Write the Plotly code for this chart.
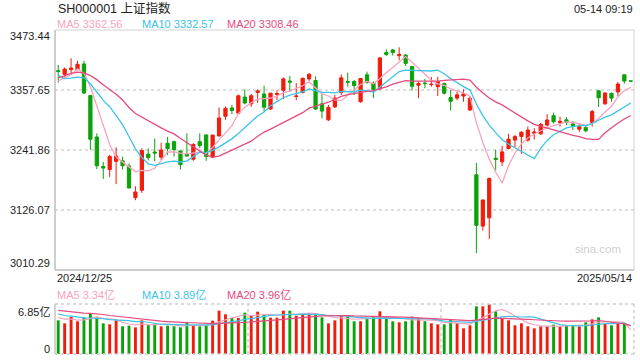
import plotly.graph_objects as go
import pandas as pd

# ---------------- data ----------------
title_text = "SH000001 上证指数"
time_text = "05-14 09:19"
date_labels = ["2024/12/25", "2025/05/14"]
price_ticks = [3010.29, 3126.07, 3241.86, 3357.65, 3473.44]
price_tick_labels = ["3010.29", "3126.07", "3241.86", "3357.65", "3473.44"]
vol_ticks = [0, 6.85]
vol_tick_labels = ["0", "6.85亿"]
ma_price_labels = ["MA5 3362.56", "MA10 3332.57", "MA20 3308.46"]
ma_vol_labels = ["MA5 3.34亿", "MA10 3.89亿", "MA20 3.96亿"]

opens = [3395, 3388, 3397, 3397, 3408, 3347, 3267, 3210, 3204, 3220,
         3221, 3211, 3150, 3164, 3234, 3238, 3228, 3255, 3258, 3240,
         3234, 3224, 3258, 3271, 3228, 3269, 3307, 3323, 3313, 3344,
         3331, 3353, 3350, 3321, 3349, 3357, 3375, 3345, 3353, 3379,
         3376, 3331, 3300, 3325, 3353, 3374, 3374, 3335, 3387, 3371,
         3360, 3430, 3435, 3424, 3425, 3403, 3367, 3371, 3368, 3364,
         3370, 3343, 3342, 3346, 3319, 3194, 3095, 3111, 3226, 3219,
         3245, 3261, 3268, 3261, 3274, 3273, 3290, 3308, 3295, 3300,
         3292, 3282, 3285, 3295, 3356, 3331, 3351, 3354, 3387, 3375.0]
highs = [3406, 3401, 3419, 3414, 3414, 3348, 3274, 3219, 3232, 3247,
         3229, 3216, 3172, 3245, 3245, 3264, 3256, 3267, 3260, 3241,
         3274, 3255, 3274, 3272, 3271, 3324, 3326, 3329, 3349, 3359,
         3350, 3359, 3366, 3352, 3357, 3382, 3385, 3371, 3382, 3390,
         3384, 3351, 3329, 3348, 3388, 3391, 3377, 3381, 3393, 3374,
         3421, 3436, 3437, 3440, 3427, 3404, 3374, 3379, 3383, 3383,
         3372, 3358, 3354, 3359, 3346, 3217, 3146, 3189, 3242, 3250,
         3273, 3271, 3278, 3287, 3284, 3294, 3311, 3314, 3306, 3305,
         3298, 3292, 3290, 3319, 3358, 3352, 3353, 3373, 3387, 3375.0]
lows = [3372, 3383, 3390, 3396, 3350, 3242, 3205, 3186, 3190, 3176,
        3204, 3168, 3145, 3159, 3222, 3220, 3222, 3232, 3229, 3204,
        3229, 3221, 3246, 3221, 3226, 3268, 3300, 3311, 3311, 3330,
        3325, 3333, 3316, 3319, 3338, 3340, 3354, 3338, 3351, 3375,
        3319, 3303, 3298, 3323, 3348, 3364, 3348, 3333, 3370, 3342,
        3358, 3423, 3424, 3415, 3404, 3357, 3342, 3361, 3364, 3346,
        3349, 3318, 3338, 3335, 3318, 3043, 3086, 3070, 3203, 3211,
        3243, 3247, 3234, 3258, 3262, 3271, 3287, 3293, 3287, 3290,
        3280, 3277, 3276, 3287, 3325, 3329, 3335, 3346, 3370, 3374.8]
closes = [3393.5, 3398.1, 3400.1, 3407.3, 3351.8, 3262.6, 3211.4, 3206.9, 3229.6, 3230.2,
          3211.4, 3168.5, 3160.8, 3240.9, 3227.1, 3236.0, 3241.8, 3244.4, 3242.6, 3213.6,
          3230.2, 3252.6, 3250.6, 3229.5, 3270.7, 3303.7, 3322.2, 3318.1, 3346.4, 3332.5,
          3346.7, 3355.8, 3324.5, 3351.5, 3350.8, 3379.1, 3373.0, 3346.0, 3380.2, 3388.1,
          3320.9, 3316.9, 3324.2, 3342.0, 3381.1, 3372.6, 3366.2, 3379.8, 3371.9, 3358.7,
          3419.6, 3426.4, 3429.8, 3426.4, 3409.0, 3364.8, 3370.0, 3370.0, 3368.7, 3373.8,
          3351.3, 3335.8, 3348.4, 3350.1, 3342.0, 3096.6, 3145.5, 3186.8, 3223.6, 3238.2,
          3262.8, 3267.7, 3276.0, 3280.3, 3276.7, 3291.4, 3299.8, 3296.4, 3297.3, 3295.1,
          3288.4, 3286.7, 3279.0, 3316.1, 3342.7, 3352.0, 3342.0, 3369.2, 3374.9, 3374.8]
# volumes in 亿
volumes = [4.61, 4.20, 5.07, 4.48, 5.02, 5.57, 5.11, 4.20, 4.06, 4.61,
           3.79, 3.88, 3.65, 4.61, 4.02, 4.16, 3.79, 3.88, 3.79, 3.65,
           4.38, 3.93, 3.79, 3.93, 4.57, 5.94, 5.43, 4.93, 4.93, 5.66,
           5.30, 5.80, 5.48, 4.98, 4.98, 5.94, 5.94, 5.25, 5.43, 5.48,
           5.57, 5.02, 4.20, 4.61, 5.34, 5.16, 4.48, 4.48, 4.80, 5.16,
           5.85, 4.93, 4.48, 4.34, 4.48, 5.11, 4.93, 4.48, 4.20, 4.06,
           4.06, 4.70, 4.25, 3.52, 3.93, 6.53, 6.53, 6.80, 5.85, 4.80,
           4.61, 3.93, 4.20, 3.79, 3.52, 3.79, 3.79, 4.02, 3.79, 3.93,
           3.93, 3.79, 4.34, 4.75, 5.02, 4.20, 3.93, 4.20, 4.20, 0.0]
# estimated sessions before the visible window (needed for the moving averages)
prior_closes = [3295.70, 3326.46, 3363.98, 3378.81, 3364.65, 3368.86, 3404.08, 3402.53,
                3422.66, 3432.49, 3461.50, 3391.88, 3386.33, 3361.49, 3382.21, 3370.03,
                3368.07, 3351.26, 3393.35]
prior_volumes = [6.4, 6.6, 6.2, 6.8, 6.5, 6.3, 6.0, 6.9, 6.6, 6.2,
                 6.4, 5.8, 6.1, 5.9, 5.7, 5.3, 5.0, 5.2, 4.9]

# ---------------- styles ----------------
RED = "#f01c0c"
GREEN = "#0aa30a"
C_MA5 = "#f7a3bf"
C_MA10 = "#3cc4e6"
C_MA20 = "#e84a7f"
FONT = "Liberation Sans, Arial, Noto Sans CJK SC, sans-serif"
W, H = 640, 360
L, R = 55, 634
MT, MB = 30, 270
VT, VB = 304, 354

n = len(closes)
xs = list(range(n))

def ma(prior, vals, k):
    s = pd.Series(prior + vals)
    return s.rolling(k).mean().iloc[len(prior):].tolist()

pma5, pma10, pma20 = (ma(prior_closes, closes, k) for k in (5, 10, 20))
vma5, vma10, vma20 = (ma(prior_volumes, volumes, k) for k in (5, 10, 20))
vol_colors = [RED if c >= o else GREEN for o, c in zip(opens, closes)]

fig = go.Figure()
fig.add_trace(go.Candlestick(
    x=xs, open=opens, high=highs, low=lows, close=closes,
    increasing=dict(line=dict(color=RED, width=1), fillcolor=RED),
    decreasing=dict(line=dict(color=GREEN, width=1), fillcolor=GREEN),
    whiskerwidth=0, xaxis="x", yaxis="y", hoverinfo="skip"))
for vals, col in ((pma5, C_MA5), (pma10, C_MA10), (pma20, C_MA20)):
    fig.add_trace(go.Scatter(x=xs, y=vals, mode="lines", line=dict(color=col, width=1.3),
                             xaxis="x", yaxis="y", hoverinfo="skip"))
fig.add_trace(go.Bar(x=xs, y=volumes, marker=dict(color=vol_colors, line=dict(width=0)),
                     width=0.45, xaxis="x2", yaxis="y2", hoverinfo="skip"))
for vals, col in ((vma5, C_MA5), (vma10, C_MA10), (vma20, C_MA20)):
    fig.add_trace(go.Scatter(x=xs, y=vals, mode="lines", line=dict(color=col, width=1.2),
                             xaxis="x2", yaxis="y2", hoverinfo="skip"))

px = lambda v: v / W
py = lambda v: 1 - v / H

fig.update_layout(
    width=W, height=H, margin=dict(l=0, r=0, t=0, b=0),
    paper_bgcolor="white", plot_bgcolor="white", showlegend=False,
    boxgap=0.28,
    font=dict(family=FONT, size=11, color="#222"),
    xaxis=dict(domain=[px(L), px(R)], range=[-0.5, n - 0.5], showticklabels=False,
               showgrid=False, zeroline=False, rangeslider=dict(visible=False), fixedrange=True),
    yaxis=dict(domain=[py(MB), py(MT)], range=[price_ticks[0], price_ticks[-1]],
               tickvals=price_ticks[1:-1], showticklabels=False, showgrid=True,
               gridcolor="#dddddd", griddash="dot", gridwidth=2, zeroline=False, fixedrange=True),
    xaxis2=dict(domain=[px(L), px(R)], range=[-0.5, n - 0.5], anchor="y2", showticklabels=False,
                showgrid=False, zeroline=False, fixedrange=True),
    yaxis2=dict(domain=[py(VB), py(VT)], range=[vol_ticks[0], vol_ticks[-1]], anchor="x2",
                showticklabels=False, showgrid=False, zeroline=False, fixedrange=True),
)

shapes = []
# main panel frame
shapes.append(dict(type="rect", xref="paper", yref="paper", x0=px(L), x1=px(R), y0=py(MB), y1=py(MT),
                   line=dict(color="#d2d2d2", width=1)))
shapes.append(dict(type="line", xref="paper", yref="paper", x0=px(L), x1=px(L), y0=py(MB), y1=py(MT),
                   line=dict(color="#c4c4c4", width=1.5)))
shapes.append(dict(type="line", xref="paper", yref="paper", x0=px(L), x1=px(R), y0=py(MB), y1=py(MB),
                   line=dict(color="#c4c4c4", width=1.5)))
# volume panel frame
for (x0, x1, y0, y1) in ((L, R, VT, VT), (L, R, VB, VB), (R, R, VT, VB)):
    shapes.append(dict(type="line", xref="paper", yref="paper", x0=px(x0), x1=px(x1), y0=py(y0), y1=py(y1),
                       line=dict(color="#d0d0d0", width=1.5, dash="dot")))
shapes.append(dict(type="line", xref="paper", yref="paper", x0=px(L), x1=px(L), y0=py(VB), y1=py(VT),
                   line=dict(color="#c4c4c4", width=1.5)))
for xv in (29.5, 59.5):
    shapes.append(dict(type="line", xref="x2", yref="paper", x0=xv, x1=xv, y0=py(VB), y1=py(VT),
                       line=dict(color="#d0d0d0", width=1.5, dash="dot")))
fig.update_layout(shapes=shapes)

ann = []
ann.append(dict(text=title_text, x=px(L + 1), y=py(8), xref="paper", yref="paper",
                xanchor="left", yanchor="middle", showarrow=False, font=dict(size=12.5, color="#222")))
ann.append(dict(text=time_text, x=px(635), y=py(9), xref="paper", yref="paper",
                xanchor="right", yanchor="middle", showarrow=False, font=dict(size=11, color="#222")))
for txt, xp, col in zip(ma_price_labels, (55, 140, 225), (C_MA5, C_MA10, C_MA20)):
    ann.append(dict(text=txt, x=px(xp), y=py(24), xref="paper", yref="paper", xanchor="left",
                    yanchor="middle", showarrow=False, font=dict(size=11, color=col)))
for txt, xp, col in zip(ma_vol_labels, (55, 140, 225), (C_MA5, C_MA10, C_MA20)):
    ann.append(dict(text=txt, x=px(xp), y=py(295), xref="paper", yref="paper", xanchor="left",
                    yanchor="middle", showarrow=False, font=dict(size=11, color=col)))
for i, (v, t) in enumerate(zip(price_ticks, price_tick_labels)):
    shift = 7 if i == 0 else (-5.5 if i == len(price_ticks) - 1 else 0)
    ann.append(dict(text=t, x=px(52), y=v, xref="paper", yref="y", xanchor="right",
                    yanchor="middle", yshift=shift, showarrow=False, font=dict(size=11, color="#222")))
for v, t, shift in zip(vol_ticks, vol_tick_labels, (5, -7.5)):
    ann.append(dict(text=t, x=px(52), y=v, xref="paper", yref="y2", xanchor="right",
                    yanchor="middle", yshift=shift, showarrow=False, font=dict(size=11, color="#222")))
ann.append(dict(text=date_labels[0], x=0, y=py(277.5), xref="x", yref="paper", xanchor="left",
                xshift=-3.2, yanchor="middle", showarrow=False, font=dict(size=11, color="#222")))
ann.append(dict(text=date_labels[1], x=n - 1, y=py(277.5), xref="x", yref="paper", xanchor="right",
                xshift=3.2, yanchor="middle", showarrow=False, font=dict(size=11, color="#222")))
ann.append(dict(text="sina.com", x=px(623), y=py(249), xref="paper", yref="paper", xanchor="right",
                yanchor="middle", showarrow=False, font=dict(size=11.5, color="#cfcfcf")))
fig.update_layout(annotations=ann)

fig.write_html("out.html", config={"displayModeBar": False, "staticPlot": True},
               post_script="document.body.style.margin='0';document.body.style.overflow='hidden';")
